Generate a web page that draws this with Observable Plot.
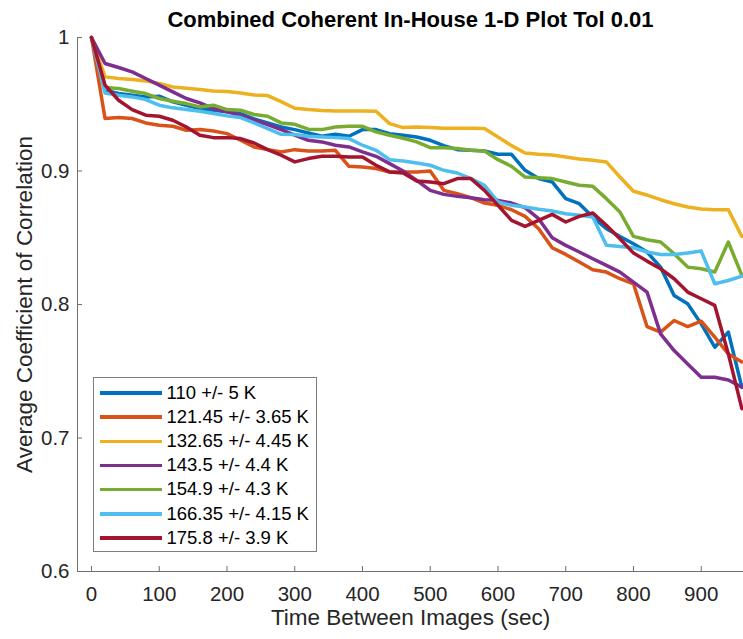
<!DOCTYPE html>
<html>
<head>
<meta charset="utf-8">
<script src="https://cdn.jsdelivr.net/npm/d3@7"></script>
<script src="https://cdn.jsdelivr.net/npm/@observablehq/plot@0.6"></script>
<style>
html,body{margin:0;padding:0;background:#fff;overflow:hidden}
#wrap{position:relative;width:743px;height:639px}
#legend{position:absolute;left:92.5px;top:377px;width:224px;height:175px;border:1px solid #7d7d7d;background:#fff;box-sizing:border-box;font-family:"Liberation Sans",Arial,Helvetica,sans-serif;font-size:18.5px;color:#000}
.row{position:absolute;left:0;height:24px;width:100%}
.sw{position:absolute;left:6px;top:10.5px;width:62px;height:3.5px}
.lab{position:absolute;left:73px;top:0;line-height:24px;white-space:nowrap}
</style>
</head>
<body>
<div id="wrap"><div id="chart"></div><div id="legend"></div></div>
<script>
const titleText = "Combined Coherent In-House 1-D Plot Tol 0.01";
const xLabelText = "Time Between Images (sec)";
const yLabelText = "Average Coefficient of Correlation";

const seriesNames = ["110 +/- 5 K", "121.45 +/- 3.65 K", "132.65 +/- 4.45 K", "143.5 +/- 4.4 K", "154.9 +/- 4.3 K", "166.35 +/- 4.15 K", "175.8 +/- 3.9 K"];
const seriesColors = ["#0072BD", "#D95319", "#EDB120", "#7E2F8E", "#77AC30", "#4DBEEE", "#A2142F"];

const xTicks = [0, 100, 200, 300, 400, 500, 600, 700, 800, 900];
const yTicks = [0.6, 0.7, 0.8, 0.9, 1];
const xDomain = [-20.66, 962.4];
const yDomain = [0.6, 1];

const times = [0, 20, 40, 60, 80, 100, 120, 140, 160, 180, 200, 220, 240, 260, 280, 300, 320, 340, 360, 380, 400, 420, 440, 460, 480, 500, 520, 540, 560, 580, 600, 620, 640, 660, 680, 700, 720, 740, 760, 780, 800, 820, 840, 860, 880, 900, 920, 940, 960];

const s110 = [1.0, 0.9605, 0.958, 0.9568, 0.9555, 0.956, 0.9518, 0.9493, 0.9468, 0.9455, 0.9443, 0.943, 0.939, 0.936, 0.933, 0.931, 0.9285, 0.926, 0.9275, 0.926, 0.931, 0.931, 0.928, 0.9268, 0.9255, 0.923, 0.919, 0.916, 0.9155, 0.915, 0.9125, 0.9125, 0.9005, 0.8943, 0.8918, 0.8793, 0.8755, 0.8655, 0.8568, 0.851, 0.8455, 0.8393, 0.828, 0.8068, 0.8005, 0.7855, 0.768, 0.7793, 0.738];
const s121 = [1.0, 0.9393, 0.94, 0.9393, 0.936, 0.9343, 0.9335, 0.9305, 0.931, 0.93, 0.928, 0.923, 0.918, 0.916, 0.9143, 0.916, 0.915, 0.915, 0.9155, 0.9035, 0.903, 0.9018, 0.8993, 0.8993, 0.8993, 0.9, 0.8855, 0.883, 0.88, 0.876, 0.8743, 0.871, 0.866, 0.8568, 0.8425, 0.8375, 0.8318, 0.826, 0.8243, 0.8193, 0.8155, 0.7835, 0.7793, 0.788, 0.7835, 0.7875, 0.7755, 0.763, 0.757];
const s132 = [1.0, 0.9705, 0.9693, 0.9685, 0.9675, 0.9655, 0.963, 0.962, 0.961, 0.96, 0.9595, 0.9585, 0.957, 0.9565, 0.952, 0.947, 0.946, 0.9453, 0.945, 0.945, 0.945, 0.9448, 0.9355, 0.9325, 0.933, 0.9325, 0.932, 0.932, 0.932, 0.9318, 0.9255, 0.919, 0.9135, 0.9125, 0.912, 0.9105, 0.909, 0.908, 0.9068, 0.8955, 0.8848, 0.882, 0.8785, 0.8755, 0.873, 0.8715, 0.871, 0.871, 0.851];
const s143 = [1.0, 0.9805, 0.9775, 0.9743, 0.9693, 0.9643, 0.9593, 0.9543, 0.951, 0.9468, 0.9443, 0.9418, 0.938, 0.9348, 0.931, 0.9268, 0.923, 0.9218, 0.9193, 0.918, 0.9143, 0.911, 0.9055, 0.9, 0.893, 0.8855, 0.8825, 0.881, 0.88, 0.8785, 0.878, 0.876, 0.8725, 0.8643, 0.85, 0.8443, 0.8393, 0.8343, 0.8293, 0.8243, 0.8168, 0.8093, 0.778, 0.7655, 0.7555, 0.7455, 0.7455, 0.7435, 0.738];
const s154 = [1.0, 0.9625, 0.9618, 0.9598, 0.958, 0.9543, 0.9523, 0.9505, 0.948, 0.9493, 0.946, 0.9455, 0.9423, 0.941, 0.936, 0.935, 0.9313, 0.931, 0.933, 0.9335, 0.9335, 0.9293, 0.9268, 0.9245, 0.9218, 0.9175, 0.9175, 0.9168, 0.9155, 0.915, 0.9085, 0.9035, 0.8955, 0.895, 0.8943, 0.8918, 0.8893, 0.8885, 0.8793, 0.8693, 0.851, 0.8485, 0.8468, 0.838, 0.828, 0.8268, 0.8243, 0.8468, 0.8218];
const s166 = [1.0, 0.9585, 0.9568, 0.9555, 0.9535, 0.9493, 0.9473, 0.946, 0.9448, 0.943, 0.9413, 0.94, 0.936, 0.9318, 0.9275, 0.9273, 0.926, 0.9255, 0.925, 0.9243, 0.9193, 0.9155, 0.9085, 0.9075, 0.906, 0.9043, 0.9005, 0.8985, 0.8943, 0.8893, 0.8768, 0.8743, 0.873, 0.8713, 0.87, 0.868, 0.8668, 0.8655, 0.8443, 0.8435, 0.8425, 0.8393, 0.8375, 0.8375, 0.8385, 0.84, 0.8155, 0.818, 0.8213];
const s175 = [1.0, 0.9643, 0.953, 0.946, 0.9418, 0.941, 0.938, 0.933, 0.9268, 0.925, 0.925, 0.9243, 0.921, 0.916, 0.9118, 0.9068, 0.9093, 0.911, 0.911, 0.9105, 0.9105, 0.9043, 0.8993, 0.8985, 0.8925, 0.8918, 0.8905, 0.8943, 0.8943, 0.8855, 0.8743, 0.863, 0.8585, 0.863, 0.8675, 0.8618, 0.866, 0.8685, 0.8593, 0.8493, 0.8385, 0.8325, 0.8268, 0.8193, 0.8093, 0.8043, 0.7993, 0.763, 0.722];

const seriesValues = [s110, s121, s132, s143, s154, s166, s175];
const rows = seriesNames.flatMap((name, i) => times.map((t, j) => ({t, v: seriesValues[i][j], s: name})));

const axisColor = "#707070";
const labelColor = "#262626";

const chart = Plot.plot({
  width: 743,
  height: 639,
  marginLeft: 77,
  marginRight: 0,
  marginTop: 37,
  marginBottom: 68,
  style: {background: "transparent", fontFamily: "'Liberation Sans', Arial, Helvetica, sans-serif", color: labelColor},
  x: {domain: xDomain, label: null},
  y: {domain: yDomain, label: null},
  color: {domain: seriesNames, range: seriesColors},
  marks: [
    Plot.ruleY([yDomain[0]], {stroke: axisColor, strokeWidth: 1}),
    Plot.ruleX([xDomain[0]], {stroke: axisColor, strokeWidth: 1}),
    Plot.axisX({ticks: xTicks, tickSize: -5, fill: "none", stroke: axisColor, strokeWidth: 1}),
    Plot.axisX({ticks: xTicks, tickSize: 0, tickPadding: 15, fontSize: 20.5, fill: labelColor, tickFormat: d => String(d)}),
    Plot.axisY({ticks: yTicks, tickSize: -5, fill: "none", stroke: axisColor, strokeWidth: 1}),
    Plot.axisY({ticks: yTicks, tickSize: 0, tickPadding: 8, fontSize: 20.5, fill: labelColor, tickFormat: d => String(d)}),
    Plot.line(rows, {x: "t", y: "v", z: "s", stroke: "s", strokeWidth: 3.5, strokeLinejoin: "round"}),
    Plot.text([titleText], {text: d => d, frameAnchor: "top", textAnchor: "middle", lineAnchor: "middle", dy: -17.5, fontSize: 22, fontWeight: "bold", fill: "#000"}),
    Plot.text([xLabelText], {text: d => d, frameAnchor: "bottom", textAnchor: "middle", lineAnchor: "middle", dy: 46, fontSize: 22.5, fill: labelColor}),
    Plot.text([yLabelText], {text: d => d, frameAnchor: "left", textAnchor: "middle", lineAnchor: "middle", dx: -53, rotate: -90, fontSize: 22.5, fill: labelColor})
  ]
});
document.getElementById("chart").append(chart);

const legend = document.getElementById("legend");
seriesNames.forEach((name, i) => {
  const row = document.createElement("div");
  row.className = "row";
  row.style.top = (2.7 + i * 24.17) + "px";
  const sw = document.createElement("div");
  sw.className = "sw";
  sw.style.background = seriesColors[i];
  const lab = document.createElement("div");
  lab.className = "lab";
  lab.textContent = name;
  row.append(sw, lab);
  legend.append(row);
});
</script>
</body>
</html>
